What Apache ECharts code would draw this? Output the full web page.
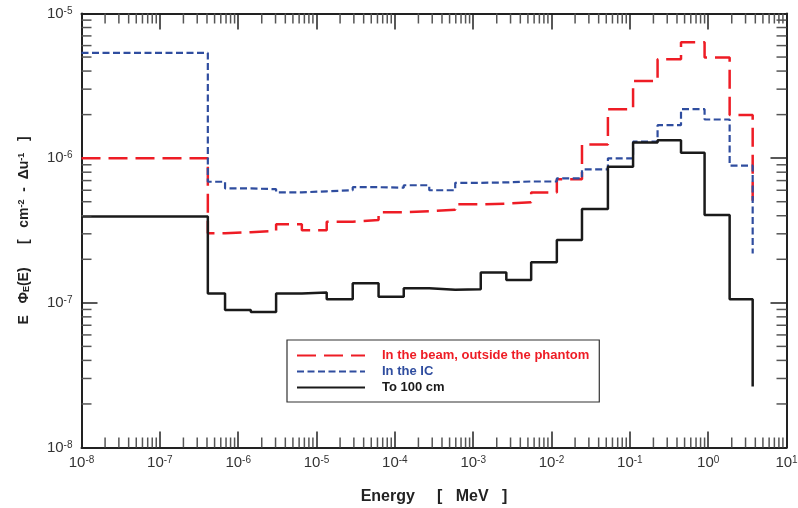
<!DOCTYPE html>
<html>
<head>
<meta charset="utf-8">
<title>Neutron fluence spectra</title>
<script src="https://cdn.jsdelivr.net/npm/echarts@6/dist/echarts.min.js"></script>
<style>
html, body { margin: 0; padding: 0; background: #fff; }
#main { width: 798px; height: 508px; }
</style>
</head>
<body>
<div id="main"></div>
<script>
// bin edges (MeV)
var edges = [1e-8, 4.1e-7, 6.8e-7, 1.45e-6, 3.05e-6, 6.5e-6, 1.35e-5, 2.9e-5, 6.2e-5,
  1.3e-4, 2.75e-4, 5.9e-4, 1.25e-3, 2.65e-3, 5.5e-3, 1.17e-2, 2.45e-2, 5.25e-2,
  0.11, 0.226, 0.45, 0.9, 1.88, 3.7];

// E*Phi_E(E) per bin
var beamVals = [1.0e-6, 3.03e-7, 3.08e-7, 3.15e-7, 3.49e-7, 3.18e-7, 3.64e-7, 3.74e-7,
  4.23e-7, 4.3e-7, 4.4e-7, 4.8e-7, 4.85e-7, 4.95e-7, 5.8e-7, 7.15e-7, 1.245e-6,
  2.18e-6, 3.41e-6, 4.83e-6, 6.33e-6, 4.97e-6, 1.99e-6];
var icVals = [5.34e-6, 6.87e-7, 6.18e-7, 6.1e-7, 5.8e-7, 5.9e-7, 6.0e-7, 6.3e-7,
  6.25e-7, 6.5e-7, 6.0e-7, 6.75e-7, 6.8e-7, 6.9e-7, 6.9e-7, 7.25e-7, 8.37e-7,
  9.97e-7, 1.3e-6, 1.69e-6, 2.18e-6, 1.85e-6, 8.87e-7];
var farVals = [3.95e-7, 1.16e-7, 8.93e-8, 8.65e-8, 1.16e-7, 1.18e-7, 1.06e-7, 1.365e-7,
  1.10e-7, 1.26e-7, 1.23e-7, 1.24e-7, 1.62e-7, 1.44e-7, 1.91e-7, 2.72e-7, 4.45e-7,
  8.73e-7, 1.285e-6, 1.33e-6, 1.09e-6, 4.05e-7, 1.06e-7];
// where the last vertical drop ends
var beamEnd = 4.7e-7;
var icEnd = 2.19e-7;
var farEnd = 2.64e-8;

var seriesNames = ['In the beam, outside the phantom', 'In the IC', 'To 100 cm'];
var xExp = [-8, -7, -6, -5, -4, -3, -2, -1, 0, 1];
var yExp = [-8, -7, -6, -5];
var minorMult = [2, 3, 4, 5, 6, 7, 8, 9];

var FONT = 'Liberation Sans, Arial, sans-serif';
var xMin = Math.pow(10, xExp[0]), xMax = Math.pow(10, xExp[xExp.length - 1]);
var yMin = Math.pow(10, yExp[0]), yMax = Math.pow(10, yExp[yExp.length - 1]);

function steps(vals, endVal) {
  var pts = [];
  for (var i = 0; i < vals.length; i++) {
    pts.push([edges[i], vals[i]]);
    pts.push([edges[i + 1], vals[i]]);
  }
  pts.push([edges[edges.length - 1], endVal]);
  return pts;
}

function minorList(exps) {
  var out = [];
  for (var i = 0; i < exps.length - 1; i++) {
    for (var j = 0; j < minorMult.length; j++) {
      out.push(minorMult[j] * Math.pow(10, exps[i]));
    }
  }
  return out;
}
var xMinor = minorList(xExp).map(function (v) { return [v, yMin]; });
var yMinor = minorList(yExp).map(function (v) { return [xMin, v]; });

function powLabel(v) {
  var e = Math.round(Math.log10(v));
  return '{b|10}{s|' + e + '}';
}
var labelRich = {
  b: { fontSize: 15, color: '#333', fontFamily: FONT },
  s: { fontSize: 10, color: '#333', fontFamily: FONT, verticalAlign: 'top' }
};

var tickStyle = { color: '#222', width: 1.5 };
var minorStyle = { stroke: '#555', lineWidth: 1.5 };

function tickLine(x1, y1, x2, y2) {
  return { type: 'line', shape: { x1: x1, y1: y1, x2: x2, y2: y2 }, style: minorStyle };
}

var myChart = echarts.init(document.getElementById('main'));

var option = {
  backgroundColor: '#fff',
  animation: false,
  grid: { left: 81.5, right: 11.5, top: 13.5, bottom: 60.5, outerBoundsMode: 'none' },
  legend: {
    orient: 'vertical',
    left: 287,
    top: 340,
    padding: [9, 10, 8, 9],
    itemGap: 3,
    itemWidth: 68,
    itemHeight: 14,
    borderColor: '#333',
    borderWidth: 1.2,
    backgroundColor: '#fff',
    itemStyle: { opacity: 0 },
    textStyle: { fontSize: 13, fontWeight: 'bold', fontFamily: FONT, padding: [0, 0, 0, 12] },
    data: [
      { name: seriesNames[0], textStyle: { color: '#ee1c25' } },
      { name: seriesNames[1], textStyle: { color: '#2f4d9f' } },
      { name: seriesNames[2], textStyle: { color: '#1a1a1a' } }
    ]
  },
  xAxis: [{
    type: 'log', logBase: 10, min: xMin, max: xMax, splitNumber: 9,
    name: 'Energy     [   MeV   ]',
    nameLocation: 'middle', nameGap: 41,
    nameTextStyle: { fontSize: 16, fontWeight: 'bold', color: '#222', fontFamily: FONT },
    axisLine: { lineStyle: { color: '#222', width: 2 } },
    axisTick: { inside: true, length: 16, lineStyle: tickStyle },
    axisLabel: { formatter: powLabel, rich: labelRich, margin: 8 },
    splitLine: { show: false }
  }, {
    type: 'log', logBase: 10, min: xMin, max: xMax, splitNumber: 9, position: 'top',
    axisLine: { lineStyle: { color: '#222', width: 2 } },
    axisTick: { inside: true, length: 16, lineStyle: tickStyle },
    axisLabel: { show: false },
    splitLine: { show: false }
  }],
  yAxis: [{
    type: 'log', logBase: 10, min: yMin, max: yMax, splitNumber: 3,
    name: '{t|E   \u03a6}{sub|E}{t|(E)      [   cm}{sup|-2}{t|  -  \u0394u}{sup|-1}{t|   ]}',
    nameLocation: 'middle', nameGap: 50, nameRotate: 90,
    nameTextStyle: {
      rich: {
        t: { fontSize: 14, fontWeight: 'bold', color: '#222', fontFamily: FONT },
        sub: { fontSize: 9, fontWeight: 'bold', color: '#222', fontFamily: FONT, verticalAlign: 'bottom' },
        sup: { fontSize: 9, fontWeight: 'bold', color: '#222', fontFamily: FONT, verticalAlign: 'top' }
      }
    },
    axisLine: { lineStyle: { color: '#222', width: 2 } },
    axisTick: { inside: true, length: 16, lineStyle: tickStyle },
    axisLabel: { formatter: powLabel, rich: labelRich, margin: 9 },
    splitLine: { show: false }
  }, {
    type: 'log', logBase: 10, min: yMin, max: yMax, splitNumber: 3, position: 'right',
    axisLine: { lineStyle: { color: '#222', width: 2 } },
    axisTick: { inside: true, length: 16, lineStyle: tickStyle },
    axisLabel: { show: false },
    splitLine: { show: false }
  }],
  series: [
    {
      name: seriesNames[0], type: 'line', data: steps(beamVals, beamEnd),
      showSymbol: false, symbol: 'none', color: '#ee1c25',
      lineStyle: { color: '#ee1c25', width: 2.5, type: [19, 8] }, z: 3
    },
    {
      name: seriesNames[1], type: 'line', data: steps(icVals, icEnd),
      showSymbol: false, symbol: 'none', color: '#2f4d9f',
      lineStyle: { color: '#2f4d9f', width: 2.2, type: [7, 3.5] }, z: 4
    },
    {
      name: seriesNames[2], type: 'line', data: steps(farVals, farEnd),
      showSymbol: false, symbol: 'none', color: '#1a1a1a',
      lineStyle: { color: '#1a1a1a', width: 2.5 }, z: 5
    },
    {
      // minor ticks along bottom and top
      type: 'custom', data: xMinor, silent: true, z: 6,
      renderItem: function (params, api) {
        var b = api.coord([api.value(0), yMin]);
        var t = api.coord([api.value(0), yMax]);
        return { type: 'group', children: [
          tickLine(b[0], b[1], b[0], b[1] - 10),
          tickLine(t[0], t[1], t[0], t[1] + 10)
        ] };
      }
    },
    {
      // minor ticks along left and right
      type: 'custom', data: yMinor, silent: true, z: 6,
      renderItem: function (params, api) {
        var l = api.coord([xMin, api.value(1)]);
        var r = api.coord([xMax, api.value(1)]);
        return { type: 'group', children: [
          tickLine(l[0], l[1], l[0] + 10, l[1]),
          tickLine(r[0], r[1], r[0] - 10, r[1])
        ] };
      }
    }
  ]
};

myChart.setOption(option);
</script>
</body>
</html>
